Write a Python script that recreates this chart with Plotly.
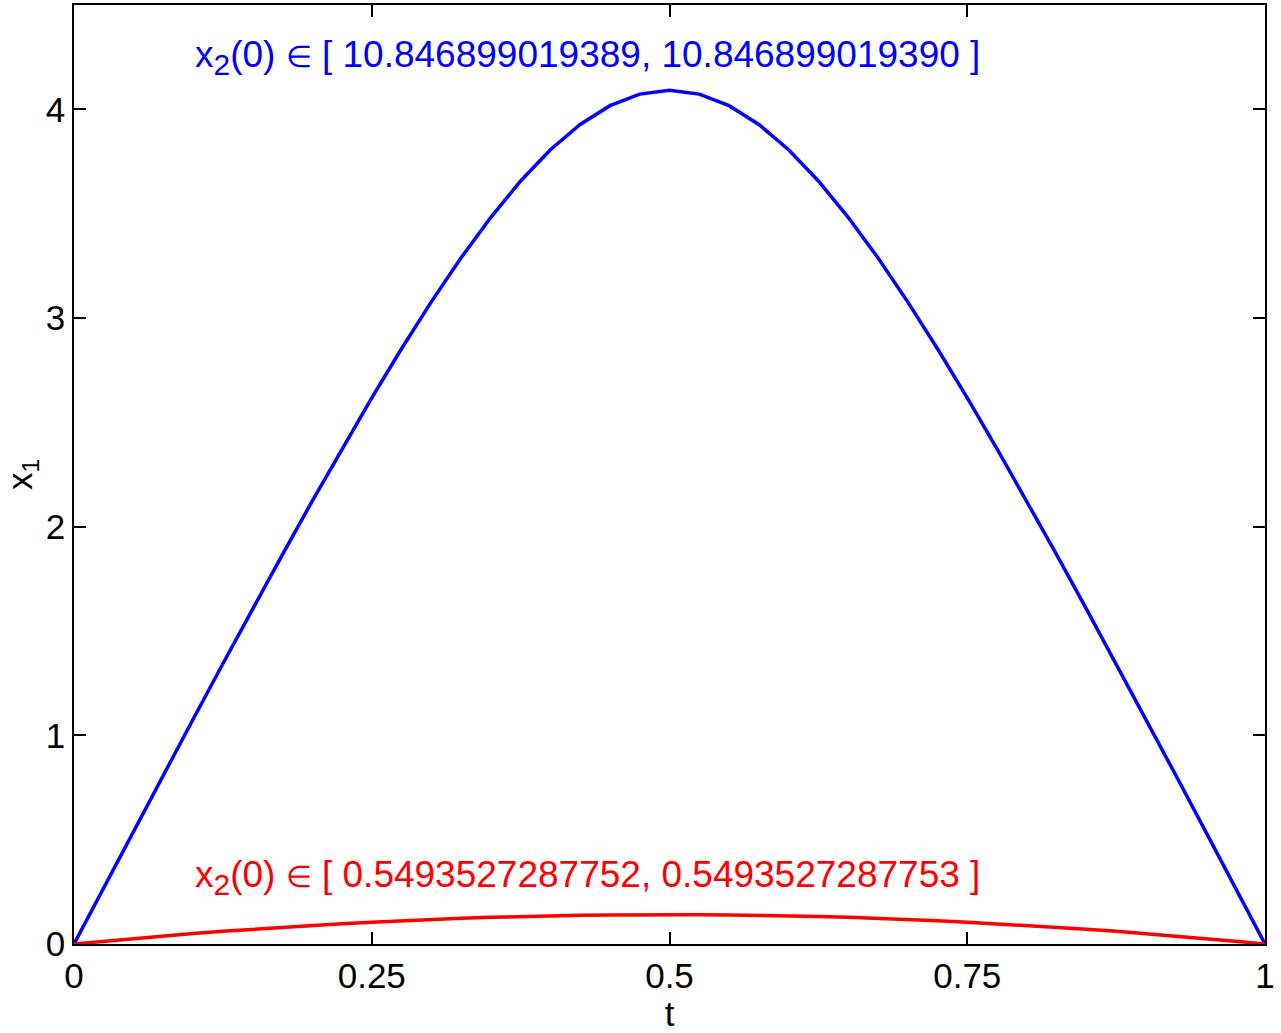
import plotly.graph_objects as go

# Data
t = [0.0, 0.025, 0.05, 0.075, 0.1, 0.125, 0.15, 0.175, 0.2, 0.225, 0.25,
     0.275, 0.3, 0.325, 0.35, 0.375, 0.4, 0.425, 0.45, 0.475, 0.5,
     0.525, 0.55, 0.575, 0.6, 0.625, 0.65, 0.675, 0.7, 0.725, 0.75,
     0.775, 0.8, 0.825, 0.85, 0.875, 0.9, 0.925, 0.95, 0.975, 1.0]

x1_upper = [0.0, 0.2709, 0.5409, 0.8098, 1.0773, 1.3430, 1.6062, 1.8664, 2.1224, 2.3732, 2.6173,
            2.8528, 3.0774, 3.2884, 3.4827, 3.6565, 3.8062, 3.9278, 4.0176, 4.0729, 4.0915,
            4.0729, 4.0176, 3.9278, 3.8062, 3.6565, 3.4827, 3.2884, 3.0774, 2.8528, 2.6173,
            2.3732, 2.1224, 1.8664, 1.6062, 1.3430, 1.0773, 0.8098, 0.5409, 0.2709, 0.0]

x1_lower = [0.0, 0.0134, 0.0262, 0.0384, 0.0498, 0.0607, 0.0709, 0.0804, 0.0892, 0.0973, 0.1048,
            0.1116, 0.1176, 0.1230, 0.1276, 0.1316, 0.1348, 0.1373, 0.1391, 0.1402, 0.1405,
            0.1402, 0.1391, 0.1373, 0.1348, 0.1316, 0.1276, 0.1230, 0.1176, 0.1116, 0.1048,
            0.0973, 0.0892, 0.0804, 0.0709, 0.0607, 0.0498, 0.0384, 0.0262, 0.0134, 0.0]

x_ticks = [0, 0.25, 0.5, 0.75, 1]
x_ticklabels = ["0", "0.25", "0.5", "0.75", "1"]
y_ticks = [0, 1, 2, 3, 4]
y_ticklabels = ["0", "1", "2", "3", "4"]

SUB2 = "<sub><span style='font-size:30px'>2</span></sub>"
label_upper = "x" + SUB2 + "(0) <span style='font-size:30px'>∈</span> [ 10.846899019389, 10.846899019390 ]"
label_lower = "x" + SUB2 + "(0) <span style='font-size:30px'>∈</span> [ 0.5493527287752, 0.5493527287753 ]"

FONT = "Liberation Sans, Arial, Helvetica, sans-serif"

fig = go.Figure()
fig.add_trace(go.Scatter(x=t, y=x1_upper, mode="lines",
                         line=dict(color="#0000ff", width=3.5), showlegend=False))
fig.add_trace(go.Scatter(x=t, y=x1_lower, mode="lines",
                         line=dict(color="#ff0000", width=3.5), showlegend=False))

fig.add_annotation(x=0.1, y=4.25, xref="x", yref="y", text=label_upper,
                   showarrow=False, xanchor="left", yanchor="middle",
                   font=dict(family=FONT, size=37, color="#0000ff"))
fig.add_annotation(x=0.1, y=0.32, xref="x", yref="y", text=label_lower,
                   showarrow=False, xanchor="left", yanchor="middle",
                   font=dict(family=FONT, size=37, color="#ff0000"))

axis_common = dict(showline=True, linecolor="black", linewidth=1.5, mirror="ticks",
                   ticks="inside", ticklen=12, tickwidth=1.5, tickcolor="black",
                   showgrid=False, zeroline=False,
                   tickfont=dict(family=FONT, size=35, color="black"))

fig.update_xaxes(range=[0, 1], tickvals=x_ticks, ticktext=x_ticklabels,
                 title=dict(text="t", font=dict(family=FONT, size=35, color="black"), standoff=0),
                 **axis_common)
fig.update_yaxes(range=[0, 4.5], tickvals=y_ticks, ticktext=y_ticklabels,
                 title=dict(text="x<sub>1</sub>", font=dict(family=FONT, size=35, color="black"), standoff=6),
                 **axis_common)

fig.update_layout(width=1281, height=1033, autosize=False,
                  margin=dict(l=74, r=16, t=5, b=89, autoexpand=False),
                  paper_bgcolor="white", plot_bgcolor="white")

fig.write_html("out.html")
